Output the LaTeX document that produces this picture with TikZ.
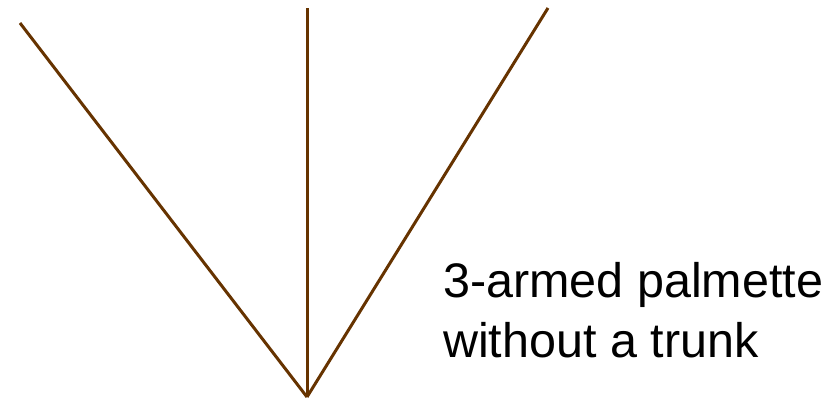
\documentclass[tikz,border=0pt]{standalone}
\usepackage{fontspec}
\setmainfont{Liberation Sans}
\usetikzlibrary{positioning}
\definecolor{branchbrown}{RGB}{102,51,0}
\tikzset{arm/.style={draw=branchbrown, line width=3pt}}
\tikzset{caption/.style={inner sep=0pt, align=left, font=\fontsize{48.5}{60}\selectfont}}

\begin{document}
\begin{tikzpicture}[x=1pt,y=1pt]
          \useasboundingbox (0,0) rectangle (827,399);
          \coordinate (base) at (307,2);
          \coordinate (leftarm) at (20,376);
          \coordinate (midarm) at (307,391);
          \coordinate (rightarm) at (548,391);
          \draw[arm] (base) -- (leftarm);
          \draw[arm] (base) -- (midarm);
          \draw[arm] (base) -- (rightarm);
          \node[caption, anchor=north west] (label) at (443,137) {3-armed palmette\\without a trunk};
        \end{tikzpicture}
\end{document}
